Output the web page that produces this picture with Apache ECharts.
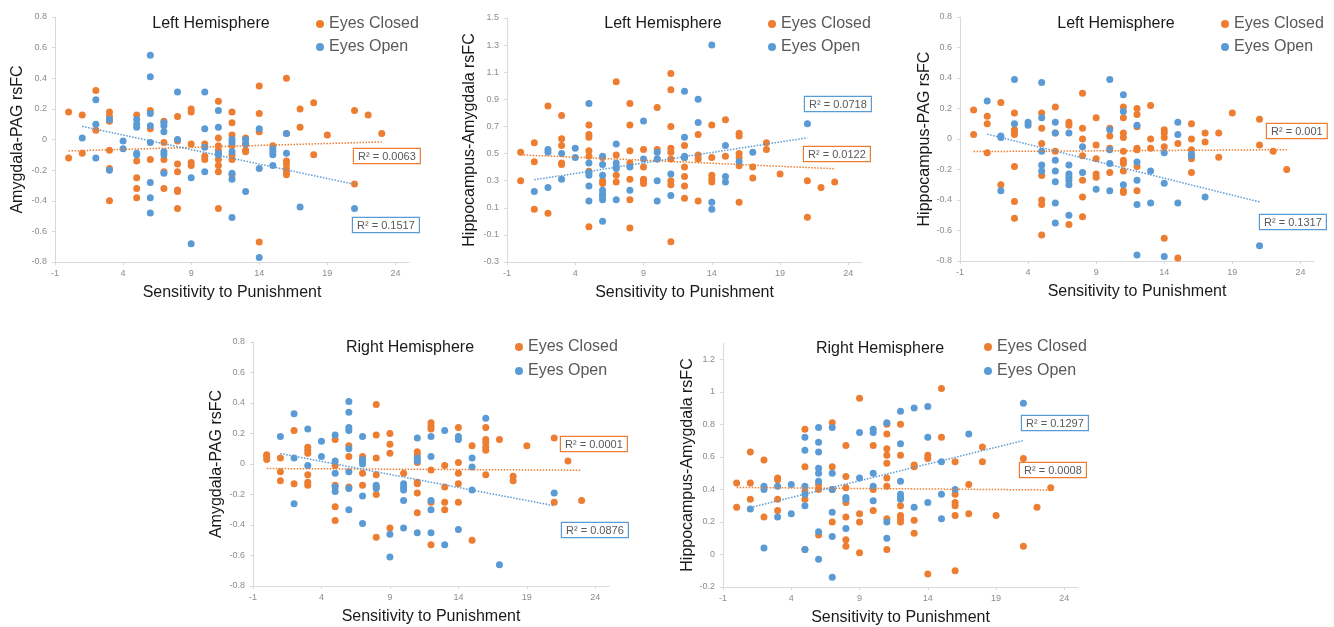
<!DOCTYPE html>
<html><head><meta charset="utf-8">
<script src="https://cdn.jsdelivr.net/npm/echarts@6/dist/echarts.min.js"></script>
<style>html,body{margin:0;padding:0;background:#fff}#c{width:1334px;height:627px}</style>
</head><body><div id="c"></div>
<script>
// Each row: [sensitivity x, rsFC y values at that x ...]
const lhAmyPagClosed = [
 [0,0.18,-0.12],[1,0.16,-0.09],[2,0.32,0.06],[3,0.18,0.15,0.12,-0.07,-0.19,-0.40],
 [5,0.16,-0.14,-0.25,-0.32,-0.38],[6,0.19,0.07,-0.13],[7,0.12,-0.02,-0.13,-0.21,-0.32],
 [8,0.15,-0.01,-0.16,-0.21,-0.33,-0.34,-0.45],[9,0.20,0.18,-0.03,-0.15,-0.17],[10,-0.03,-0.11,-0.13],
 [11,0.25,0.01,-0.04,-0.07,-0.13,-0.17,-0.21,-0.45],[12,0.18,0.11,0.03,-0.04,-0.10,-0.13,-0.23],
 [13,0.01,-0.03,-0.07,-0.08],[14,0.35,0.17,0.05,-0.67],[15,-0.04],[16,0.40,0.04,-0.14,-0.16,-0.19,-0.21,-0.23],
 [17,0.20,0.08],[18,0.24,-0.10],[19,0.03],[21,0.19,-0.29],[22,0.16],[23,0.04]
];
const lhAmyPagOpen = [
 [1,0.01],[2,0.26,0.10,-0.12],[3,0.13,-0.20],[4,-0.01,-0.06],[5,0.13,0.10,0.08,-0.09,-0.10],
 [6,0.55,0.41,0.17,0.09,-0.02,-0.28,-0.38,-0.48],[7,0.11,0.09,0.05,-0.08,-0.10,-0.22],[8,0.31,0.0],
 [9,-0.25,-0.68],[10,0.31,0.07,-0.05,-0.21],[11,0.19,0.08,-0.09,-0.10],[12,0.0,-0.02,-0.08,-0.22,-0.26,-0.51],
 [13,0.0,-0.03,-0.34],[14,0.07,-0.19,-0.77],[15,-0.06,-0.08,-0.10,-0.17],[16,0.04,-0.09],[17,-0.44],[21,-0.45]
];
const lhHipAmyClosed = [
 [0,0.51,0.30],[1,0.58,0.44,0.09],[2,0.85,0.06],[3,0.78,0.61,0.56,0.43,0.42],
 [5,0.71,0.64,0.62,0.52,0.48,0.37,-0.04],[6,0.47,0.30,0.28],[7,1.03,0.49,0.34,0.29],
 [8,0.87,0.71,0.52,0.43,0.31,0.16,-0.05],[9,0.53,0.40,0.31,0.30,0.28],[10,0.84,0.53,0.46],
 [11,1.09,0.97,0.70,0.54,0.51,0.46,0.30,0.27,-0.15],[12,0.56,0.47,0.40,0.33,0.26,0.17],
 [13,0.64,0.49,0.46,0.15],[14,0.71,0.47,0.34,0.31,0.29],[15,0.75,0.48],[16,0.65,0.63,0.50,0.47,0.41,0.14],
 [17,0.40,0.32],[18,0.58,0.53],[19,0.35],[21,0.30,0.03],[22,0.25],[23,0.29]
];
const lhHipAmyOpen = [
 [1,0.22],[2,0.53,0.51,0.25],[3,0.50,0.31],[4,0.54,0.47],[5,0.87,0.43,0.36,0.34,0.26,0.15],
 [6,0.48,0.42,0.34,0.23,0.20,0.18,0.16,0.00],[7,0.57,0.43,0.40,0.39,0.16],[8,0.40,0.23],[9,0.74,0.46],
 [10,0.51,0.46,0.30,0.15],[11,0.35,0.19],[12,0.96,0.62,0.48,0.47],[13,0.90,0.73],[14,1.30,0.14,0.09],
 [15,0.56,0.33,0.29],[16,0.44],[17,0.51],[21,0.72]
];
const lhHipPagClosed = [
 [0,0.19,0.03],[1,0.15,0.10,-0.09],[2,0.24,-0.30],[3,0.17,0.06,0.05,0.03,-0.18,-0.41,-0.52],
 [5,0.17,0.07,-0.03,-0.24,-0.40,-0.43,-0.63],[6,0.21,0.04,-0.08],[7,0.11,0.09,-0.56],
 [8,0.30,0.07,0.0,-0.11,-0.27,-0.38,-0.51],[9,0.14,-0.04,-0.13,-0.23,-0.25],[10,0.07,0.02,-0.06,-0.22],
 [11,0.21,0.14,0.04,0.01,-0.08,-0.14,-0.16,-0.21,-0.34,-0.35],[12,0.20,0.16,0.08,-0.06,-0.07,-0.18,-0.34],
 [13,0.22,0.0,-0.06],[14,0.06,0.04,0.01,-0.05,-0.65],[15,-0.03,-0.78],[16,0.10,0.0,-0.07,-0.13,-0.22],
 [17,0.04,-0.02],[18,0.04,-0.12],[19,0.17],[21,0.13,-0.04],[22,-0.08],[23,-0.20]
];
const lhHipPagOpen = [
 [1,0.25],[2,0.01,0.02,-0.34],[3,0.39,0.10],[4,0.11,0.09],[5,0.37,0.14,-0.08,-0.17,-0.21],
 [6,0.11,0.04,-0.14,-0.21,-0.28,-0.42,-0.55],[7,0.04,-0.17,-0.23,-0.25,-0.27,-0.30,-0.50],[8,-0.05,-0.22],
 [9,-0.33],[10,0.39,0.06,-0.07,-0.16,-0.34],[11,0.29,0.18,-0.30],[12,0.09,-0.15,-0.27,-0.43,-0.76],
 [13,-0.21,-0.42],[14,-0.09,-0.29,-0.77],[15,0.11,0.03,-0.42],[16,-0.10,-0.11],[17,-0.38],[21,-0.70]
];
const rhAmyPagClosed = [
 [0,0.06,0.05,0.03],[1,0.04,-0.05,-0.11],[2,0.22,-0.13],[3,0.11,0.09,0.07,-0.07,-0.12,-0.14],
 [5,0.16,-0.01,-0.14,-0.28,-0.37],[6,0.12,0.05,-0.15],[7,0.05,-0.06,-0.14],
 [8,0.39,0.19,0.04,-0.07,-0.15,-0.20,-0.48],[9,0.20,0.13,0.07,-0.42],[10,-0.06],
 [11,0.08,0.06,0.01,-0.12,-0.13,-0.19,-0.32],[12,0.27,0.25,0.23,-0.04,-0.25,-0.53],
 [13,-0.01,-0.15,-0.25,-0.30],[14,0.24,0.01,-0.06,-0.13,-0.25],[15,0.12,-0.50],
 [16,0.24,0.16,0.14,0.11,0.09,-0.07],[17,0.16],[18,-0.08,-0.11],[19,0.12],[21,0.17,-0.25],[22,0.02],[23,-0.24]
];
const rhAmyPagOpen = [
 [1,0.18],[2,0.33,0.04,-0.26],[3,0.23,-0.01],[4,0.15,0.05],[5,0.19,0.02,-0.06,-0.15,-0.18],
 [6,0.41,0.34,0.24,0.22,0.10,-0.05,-0.16,-0.30],[7,0.18,0.03,0.02,0.0,-0.21,-0.39],[8,-0.14,-0.16],
 [9,-0.46,-0.61],[10,-0.13,-0.15,-0.17,-0.24,-0.42],[11,0.17,0.04,0.02,-0.45],[12,0.18,0.05,-0.24,-0.30,-0.45],
 [13,0.22,-0.53],[14,0.18,0.16,-0.43],[15,0.04,-0.02,-0.17],[16,0.30],[17,-0.66],[21,-0.19]
];
const rhHipAmyClosed = [
 [0,0.44,0.29],[1,0.63,0.44,0.34],[2,0.58,0.23],[3,0.47,0.46,0.34,0.27],[5,0.77,0.54,0.39,0.34,0.03],
 [6,0.43,0.40,0.12],[7,0.81,0.54,0.40,0.20],[8,0.67,0.48,0.41,0.32,0.23,0.09,0.05],[9,0.96,0.25,0.20,0.01],
 [10,0.67,0.40,0.27],[11,0.80,0.74,0.65,0.61,0.56,0.47,0.42,0.22,0.03],[12,0.80,0.61,0.30,0.24,0.22,0.20],
 [13,0.55,0.54,0.21,0.13],[14,0.61,0.59,-0.12],[15,1.02,0.72],[16,0.57,0.37,0.32,0.30,0.24,-0.10],
 [17,0.43,0.25],[18,0.66,0.57],[19,0.24],[21,0.59,0.05],[22,0.29],[23,0.41]
];
const rhHipAmyOpen = [
 [1,0.28],[2,0.42,0.40,0.04],[3,0.42,0.23],[4,0.43,0.25],[5,0.72,0.64,0.42,0.37,0.30,0.03],
 [6,0.78,0.69,0.63,0.53,0.50,0.45,0.14,-0.03],[7,0.78,0.50,0.40,0.26,0.11,-0.14],[8,0.35,0.34,0.16],
 [9,0.75,0.47],[10,0.77,0.75,0.50,0.42,0.33],[11,0.81,0.20,0.10],[12,0.88,0.68,0.45,0.37,0.35,0.34],
 [13,0.90,0.29],[14,0.91,0.72,0.32],[15,0.57,0.37,0.22],[16,0.40],[17,0.74],[21,0.93]
];

const panelTitles = ['Left Hemisphere','Left Hemisphere','Left Hemisphere','Right Hemisphere','Right Hemisphere'];
const yNames = ['Amygdala-PAG rsFC','Hippocampus-Amygdala rsFC','Hippocampus-PAG rsFC','Amygdala-PAG rsFC','Hippocampus-Amygdala rsFC'];
const xName = 'Sensitivity to Punishment';
const seriesNames = ['Eyes Closed','Eyes Open'];
const r2Closed = ['R\u00b2 = 0.0063','R\u00b2 = 0.0122','R\u00b2 = 0.001','R\u00b2 = 0.0001','R\u00b2 = 0.0008'];
const r2Open = ['R\u00b2 = 0.1517','R\u00b2 = 0.0718','R\u00b2 = 0.1317','R\u00b2 = 0.0876','R\u00b2 = 0.1297'];
const yMins = [-0.8,-0.3,-0.8,-0.8,-0.2];
const yMaxs = [0.8,1.5,0.8,0.8,1.3];
const yIntervals = [0.2,0.2,0.2,0.2,0.2];
const xMin = -1, xMax = 25, xInterval = 5;

const closedData = [lhAmyPagClosed, lhHipAmyClosed, lhHipPagClosed, rhAmyPagClosed, rhHipAmyClosed];
const openData = [lhAmyPagOpen, lhHipAmyOpen, lhHipPagOpen, rhAmyPagOpen, rhHipAmyOpen];

// layout (pixels)
const grids = [
 {left:55, top:17, width:354, height:245},
 {left:507, top:18, width:355, height:244},
 {left:960, top:17, width:354, height:244},
 {left:253, top:342, width:356, height:244},
 {left:723, top:343, width:355, height:244}
];
const yNameGaps = [29,29,27,28,27];
const titlePos = [[211,24],[663,24],[1116,24],[410,348],[880,349]];
const legendPos = [[316,16,7],[768,16,7],[1221,16,7],[515,339,8],[984,339,8]];
const r2ClosedPos = [[354,149],[804,147],[1267,124],[561,437],[1020,463]];
const r2OpenPos = [[353,218],[805,97],[1260,215],[562,523],[1022,416]];

const ORANGE = '#ED7D31', BLUE = '#5B9BD5';
const FONT = '"Liberation Sans", Arial, sans-serif';

function expand(rows){ const out=[]; rows.forEach(r=>{ for(let i=1;i<r.length;i++) out.push([r[0], r[i]]); }); return out; }
function trend(pts){
  const n=pts.length; let sx=0,sy=0,sxx=0,sxy=0,mn=Infinity,mx=-Infinity;
  pts.forEach(([x,y])=>{sx+=x;sy+=y;sxx+=x*x;sxy+=x*y;mn=Math.min(mn,x);mx=Math.max(mx,x);});
  const b=(n*sxy-sx*sy)/(n*sxx-sx*sx), a=(sy-b*sx)/n;
  return [[mn,a+b*mn],[mx,a+b*mx]];
}

const chart = echarts.init(document.getElementById('c'), null, {renderer:'canvas'});
const option = {animation:false, backgroundColor:'#fff', grid:[], xAxis:[], yAxis:[], series:[], legend:[], graphic:[]};

for(let i=0;i<5;i++){
  option.grid.push(Object.assign({outerBoundsMode:'none', containLabel:false}, grids[i]));
  option.xAxis.push({type:'value', gridIndex:i, min:xMin, max:xMax, interval:xInterval,
    splitLine:{show:false},
    axisLine:{onZero:false, lineStyle:{color:'#d9d9d9', width:1}},
    axisTick:{show:true, length:3, lineStyle:{color:'#d9d9d9'}},
    axisLabel:{fontSize:9, color:'#8c8c8c', margin:7, fontFamily:FONT, showMaxLabel:false, showMinLabel:true},
    name:xName, nameLocation:'middle', nameGap:23,
    nameTextStyle:{fontSize:16, color:'#1a1a1a', fontFamily:FONT}});
  option.yAxis.push({type:'value', gridIndex:i, min:yMins[i], max:yMaxs[i], interval:yIntervals[i],
    splitLine:{show:false},
    axisLine:{show:true, onZero:false, lineStyle:{color:'#d9d9d9', width:1}},
    axisTick:{show:true, length:3, lineStyle:{color:'#d9d9d9'}},
    axisLabel:{fontSize:9, color:'#8c8c8c', margin:8, fontFamily:FONT, showMaxLabel:yMaxs[i]===1.3?false:true},
    name:yNames[i], nameLocation:'middle', nameGap:yNameGaps[i],
    nameTextStyle:{fontSize:16, color:'#1a1a1a', fontFamily:FONT}});
  const c = expand(closedData[i]), o = expand(openData[i]);
  option.series.push({type:'scatter', name:seriesNames[0], xAxisIndex:i, yAxisIndex:i, data:c,
    symbolSize:7, itemStyle:{color:ORANGE, opacity:1}, z:2});
  option.series.push({type:'scatter', name:seriesNames[1], xAxisIndex:i, yAxisIndex:i, data:o,
    symbolSize:7, itemStyle:{color:BLUE, opacity:1}, z:3});
  option.series.push({type:'line', name:'trendClosed'+i, xAxisIndex:i, yAxisIndex:i, data:trend(c),
    symbol:'none', silent:true, lineStyle:{type:'dotted', width:1.5, color:ORANGE}, z:4});
  option.series.push({type:'line', name:'trendOpen'+i, xAxisIndex:i, yAxisIndex:i, data:trend(o),
    symbol:'none', silent:true, lineStyle:{type:'dotted', width:1.5, color:BLUE}, z:4});
  option.legend.push({data:seriesNames, orient:'vertical', left:legendPos[i][0], top:legendPos[i][1],
    itemGap:legendPos[i][2], icon:'circle', itemWidth:8, itemHeight:8, padding:0, selectedMode:false,
    textStyle:{fontSize:16, color:'#595959', fontFamily:FONT}});
  option.graphic.push({type:'text', x:titlePos[i][0], y:titlePos[i][1], z:10,
    style:{text:panelTitles[i], font:'16px '+FONT, fill:'#1a1a1a', align:'center', verticalAlign:'middle', textAlign:'center', textVerticalAlign:'middle'}});
  option.graphic.push({type:'text', x:r2ClosedPos[i][0], y:r2ClosedPos[i][1], z:10,
    style:{text:r2Closed[i], font:'11px '+FONT, fill:'#595959', backgroundColor:'#fff', borderColor:ORANGE, borderWidth:1.2, padding:[2,4,1,4], align:'left', verticalAlign:'top'}});
  option.graphic.push({type:'text', x:r2OpenPos[i][0], y:r2OpenPos[i][1], z:10,
    style:{text:r2Open[i], font:'11px '+FONT, fill:'#595959', backgroundColor:'#fff', borderColor:BLUE, borderWidth:1.2, padding:[2,4,1,4], align:'left', verticalAlign:'top'}});
}
chart.setOption(option);
</script>
</body></html>
